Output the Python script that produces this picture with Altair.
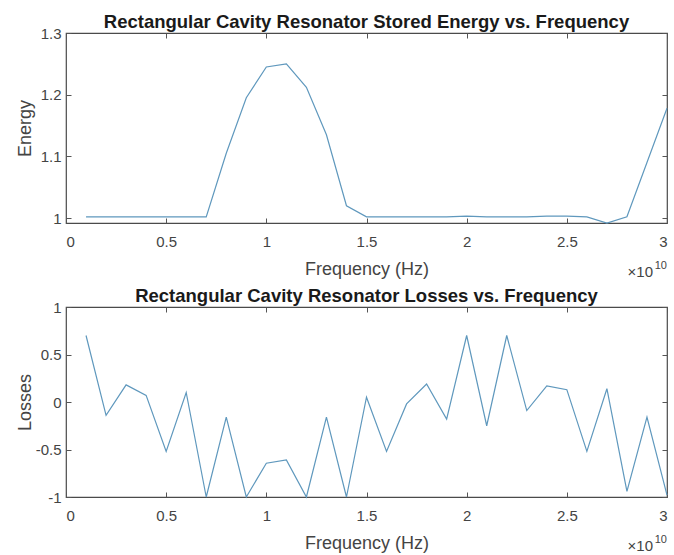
import altair as alt
import pandas as pd

# Frequency samples (Hz)
freq_hz = [1.0e9, 2.0e9, 3.0e9, 4.0e9, 5.0e9, 6.0e9, 7.0e9, 8.0e9, 9.0e9, 1.0e10,
           1.1e10, 1.2e10, 1.3e10, 1.4e10, 1.5e10, 1.6e10, 1.7e10, 1.8e10, 1.9e10, 2.0e10,
           2.1e10, 2.2e10, 2.3e10, 2.4e10, 2.5e10, 2.6e10, 2.7e10, 2.8e10, 2.9e10, 3.0e10]

# Stored energy (top panel)
energy = [1.002, 1.002, 1.002, 1.002, 1.002, 1.002, 1.002, 1.105, 1.195, 1.245,
          1.250, 1.212, 1.135, 1.020, 1.002, 1.002, 1.002, 1.002, 1.002, 1.003,
          1.002, 1.002, 1.002, 1.003, 1.003, 1.002, 0.992, 1.002, 1.090, 1.178]

# Losses (bottom panel)
losses = [0.70, -0.14, 0.18, 0.07, -0.52, 0.10, -1.00, -0.16, -1.00, -0.645,
          -0.61, -1.00, -0.16, -1.00, 0.05, -0.52, -0.02, 0.19, -0.18, 0.70,
          -0.25, 0.70, -0.09, 0.17, 0.13, -0.52, 0.14, -0.94, -0.16, -0.98]

x_ticks = [0, 5e9, 1e10, 1.5e10, 2e10, 2.5e10, 3e10]
energy_ticks = [1.0, 1.1, 1.2, 1.3]
loss_ticks = [-1.0, -0.5, 0.0, 0.5, 1.0]

titles = ["Rectangular Cavity Resonator Stored Energy vs. Frequency",
          "Rectangular Cavity Resonator Losses vs. Frequency"]
x_title = "Frequency (Hz)"
y_titles = ["Energy", "Losses"]
exp_base = ["\u00d710"]
exp_power = ["10"]

df = pd.DataFrame({"freq": freq_hz, "energy": energy, "losses": losses})

W, H = 601, 190
LINE = "#5f98bd"
FONT = "Liberation Sans"
TXT = "#444444"


def panel(field, title, ytitle, ydomain, yticks):
    xscale = alt.Scale(domain=[0, 3e10], nice=False, zero=False)
    yscale = alt.Scale(domain=ydomain, nice=False, zero=False)
    base = alt.Chart(df)

    main = base.mark_line(color=LINE, strokeWidth=1.2).encode(
        x=alt.X("freq:Q", scale=xscale,
                axis=alt.Axis(values=x_ticks, labelExpr="'' + (datum.value / 1e10)",
                              title=x_title, ticks=False, domain=False, grid=False,
                              labelPadding=11, titlePadding=11,
                              labelFontSize=15, titleFontSize=18,
                              labelFont=FONT, titleFont=FONT,
                              labelColor=TXT, titleColor=TXT,
                              titleFontWeight="normal")),
        y=alt.Y(f"{field}:Q", scale=yscale,
                axis=alt.Axis(values=yticks, labelExpr="'' + datum.value",
                              title=ytitle, ticks=False, domain=False,
                              grid=False, labelPadding=5,
                              labelFontSize=15, titleFontSize=18,
                              labelFont=FONT, titleFont=FONT,
                              labelColor=TXT, titleColor=TXT,
                              titleFontWeight="normal",
                              titleX=-41, titleY=H / 2, titleBaseline="middle")),
    )

    def tick_layer(xo, yo):
        return base.mark_line(opacity=0).encode(
            x=alt.X("freq:Q", scale=xscale,
                    axis=alt.Axis(orient=xo, values=x_ticks, labels=False, domain=False,
                                  grid=False, tickSize=5, offset=-5, tickColor="#555555",
                                  title=None)),
            y=alt.Y(f"{field}:Q", scale=yscale,
                    axis=alt.Axis(orient=yo, values=yticks, labels=False, domain=False,
                                  grid=False, tickSize=5, offset=-5, tickColor="#555555",
                                  title=None)),
        )

    exp1 = alt.Chart(pd.DataFrame({"t": exp_base})).mark_text(
        align="right", baseline="middle", fontSize=15, font=FONT, color=TXT
    ).encode(x=alt.value(W - 14), y=alt.value(H + 49), text="t:N")
    exp2 = alt.Chart(pd.DataFrame({"t": exp_power})).mark_text(
        align="right", baseline="middle", fontSize=11, font=FONT, color=TXT
    ).encode(x=alt.value(W), y=alt.value(H + 43), text="t:N")

    return alt.layer(main, tick_layer("bottom", "left"), tick_layer("top", "right"),
                     exp1, exp2).resolve_axis(
        x="independent", y="independent"
    ).properties(
        width=W, height=H,
        title=alt.TitleParams(title, fontSize=18.5, fontWeight="bold", font=FONT,
                              color="#1a1a1a", offset=-5, anchor="middle"),
    )


top = panel("energy", titles[0], y_titles[0], [0.992, 1.3], energy_ticks)
bottom = panel("losses", titles[1], y_titles[1], [-1.0, 1.0], loss_ticks)

chart = alt.vconcat(top, bottom, spacing=84, bounds="flush").properties(
    padding={"left": 15, "top": 11, "right": 2, "bottom": 2},
    background="white",
).configure_view(stroke="#4a4a4a", strokeWidth=1.2)

chart.save("out.html", embed_options={"renderer": "svg", "actions": False})
